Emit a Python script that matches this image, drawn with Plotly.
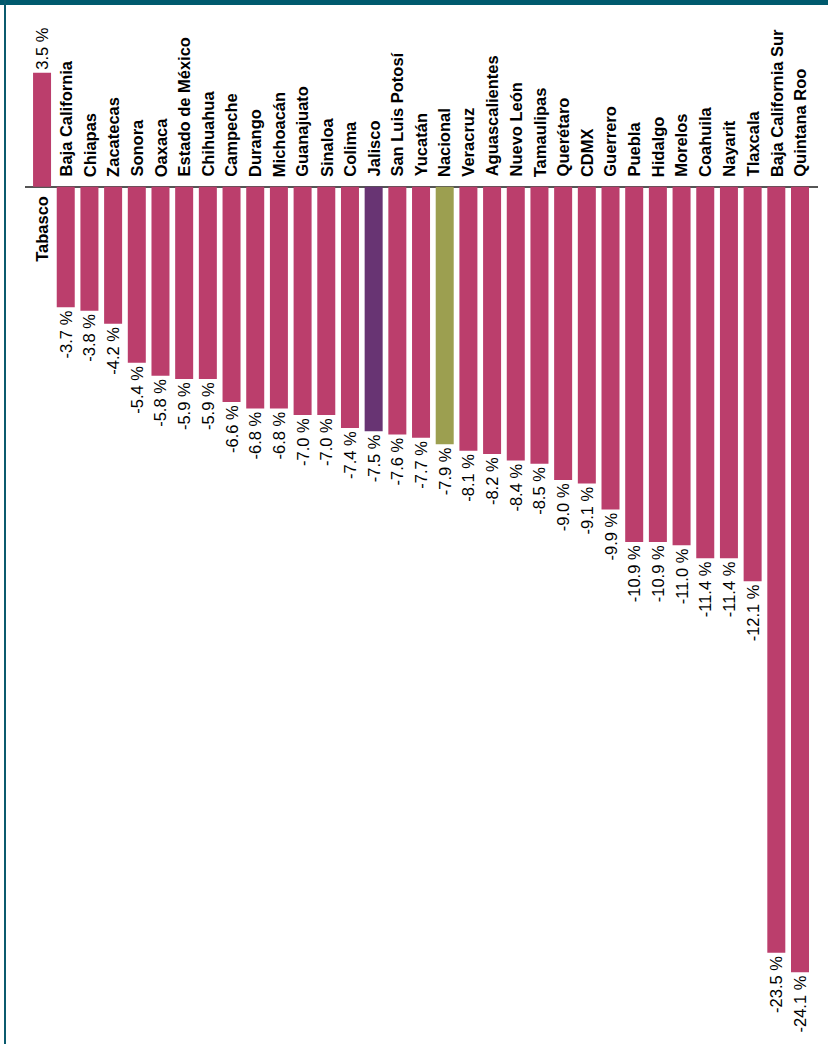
import plotly.graph_objects as go

categories = ["Tabasco", "Baja California", "Chiapas", "Zacatecas", "Sonora", "Oaxaca",
              "Estado de México", "Chihuahua", "Campeche", "Durango", "Michoacán",
              "Guanajuato", "Sinaloa", "Colima", "Jalisco", "San Luis Potosí", "Yucatán",
              "Nacional", "Veracruz", "Aguascalientes", "Nuevo León", "Tamaulipas",
              "Querétaro", "CDMX", "Guerrero", "Puebla", "Hidalgo", "Morelos", "Coahuila",
              "Nayarit", "Tlaxcala", "Baja California Sur", "Quintana Roo"]
values = [3.5, -3.7, -3.8, -4.2, -5.4, -5.8, -5.9, -5.9, -6.6, -6.8, -6.8, -7.0, -7.0,
          -7.4, -7.5, -7.6, -7.7, -7.9, -8.1, -8.2, -8.4, -8.5, -9.0, -9.1, -9.9, -10.9,
          -10.9, -11.0, -11.4, -11.4, -12.1, -23.5, -24.1]

base_color = "#bb3e6c"
highlight_colors = {"Jalisco": "#683473", "Nacional": "#9c9f50"}
colors = [highlight_colors.get(c, base_color) for c in categories]

FONT = "Liberation Sans, Arial, Helvetica, sans-serif"

fig = go.Figure()
fig.add_trace(go.Bar(
    x=categories, y=values, marker=dict(color=colors, line=dict(width=0)),
    width=0.76,
    text=[f"{v:.1f} %" for v in values],
    textposition="outside", textangle=-90, constraintext="none", cliponaxis=False,
    textfont=dict(family=FONT, size=16.5, color="#000000"),
    hoverinfo="skip",
))

annotations = []
for c, v in zip(categories, values):
    annotations.append(dict(
        x=c, y=0, xref="x", yref="y", text=c, showarrow=False, textangle=-90,
        xanchor="center", yanchor="bottom" if v < 0 else "top",
        yshift=8 if v < 0 else -7,
        font=dict(family=FONT, size=16.5, color="#000000", weight="bold"),
    ))

W, H = 828, 1044
ml, mr = 25, 10
pw = W - ml - mr

shapes = [
    dict(type="rect", xref="paper", yref="paper", x0=-ml / pw, x1=1 + mr / pw,
         y0=1 - 5 / H, y1=1.0, fillcolor="#005a6e", line=dict(width=0), layer="above"),
    dict(type="line", xref="paper", yref="paper", x0=(5 - ml) / pw, x1=(5 - ml) / pw,
         y0=0, y1=1, line=dict(color="#0b5b6e", width=2), layer="above"),
]

fig.update_layout(
    width=W, height=H, margin=dict(l=ml, r=mr, t=0, b=0),
    paper_bgcolor="white", plot_bgcolor="white", showlegend=False,
    xaxis=dict(visible=False, range=[-0.72, 32.76], type="category"),
    yaxis=dict(range=[-26.30, 5.73], showgrid=False, showticklabels=False,
               zeroline=True, zerolinecolor="#555555", zerolinewidth=2),
    annotations=annotations, shapes=shapes,
)

fig.write_html("out.html", config={"displayModeBar": False},
               post_script="document.body.style.margin='0';document.body.style.overflow='hidden';")
